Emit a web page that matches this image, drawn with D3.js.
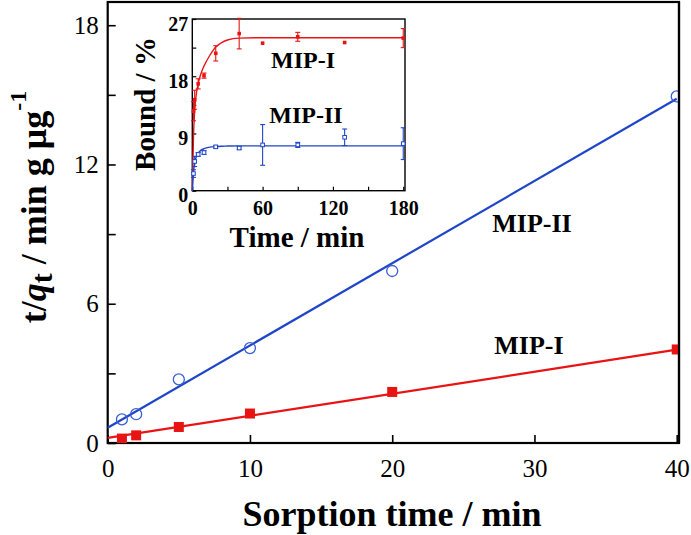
<!DOCTYPE html>
<html><head><meta charset="utf-8">
<script src="https://cdn.jsdelivr.net/npm/d3@7"></script>
<style>
body{margin:0;background:#fff;}
text{font-family:"Liberation Serif","Times New Roman",serif;}
</style></head>
<body><svg id="c" width="691" height="535"></svg>
<script>
// ---- main plot data ----
const mainT = [1, 2, 5, 10, 20, 40];
const mainI = [0.19, 0.33, 0.69, 1.27, 2.2, 4.03];
const mainII = [1.02, 1.24, 2.74, 4.09, 7.41, 14.93];
const fitT = [0, 40];
const fitI = [0.22, 4.02];
const fitII = [0.66, 14.83];
const mainXTicks = [0, 10, 20, 30, 40];
const mainYTicks = [0, 3, 6, 9, 12, 15, 18];
// ---- inset data ----
const kinT = [1, 2, 5, 10, 20, 40, 60, 90, 130, 180];
const kinI = [12.5, 14.3, 16.8, 18.1, 21.6, 24.7, 23.2, 24.2, 23.3, 24.0];
const errI = [1.5, 1.5, 0.8, 0.4, 1.2, 2.4, 0, 0.7, 0, 1.5];
const kinII = [2.7, 4.6, 5.7, 6.0, 6.9, 6.7, 7.2, 7.2, 8.4, 7.4];
const errII = [0.6, 0.8, 0.3, 0.3, 0.2, 0.2, 3.2, 0.4, 1.3, 2.5];
const curveT = [0, 1, 2, 3, 5, 7, 10, 15, 20, 25, 30, 40, 60, 180];
const curveI = [0, 8.5, 12.5, 14.6, 16.8, 18.2, 19.6, 21.3, 22.6, 23.3, 23.7, 24.0, 24.05, 24.05];
const curveII = [0, 2.8, 4.3, 5.1, 5.9, 6.3, 6.6, 6.85, 6.95, 7.0, 7.02, 7.05, 7.05, 7.05];
const inXTicks = [0, 30, 60, 90, 120, 150, 180];
const inYTicks = [0, 4.5, 9, 13.5, 18, 22.5, 27];

const RED = "#e81414", BLUE = "#1f45c8";
const FONT = '"Liberation Serif","Times New Roman",serif';
const svg = d3.select("#c");

// ---- main scales ----
const x = d3.scaleLinear().domain([0, 40.16]).range([107.7, 679]);
const y = d3.scaleLinear().domain([0, 19]).range([443, 2]);

// axes
const gx = svg.append("g").attr("transform", "translate(0,443)")
  .call(d3.axisBottom(x).tickValues(mainXTicks).tickSize(-8).tickPadding(16).tickFormat(d3.format("d")));
const gy = svg.append("g").attr("transform", "translate(107.7,0)")
  .call(d3.axisLeft(y).tickValues(mainYTicks).tickSize(-8).tickPadding(9).tickFormat(d => d % 6 === 0 ? d : ""));
[gx, gy].forEach(g => {
  g.attr("font-family", FONT);
  g.select(".domain").remove();
  g.selectAll(".tick line").attr("stroke", "#000").attr("stroke-width", 1.6);
  g.selectAll(".tick text").attr("font-size", 25).attr("fill", "#000").style("font-family", FONT);
});
svg.append("rect").attr("x", x(0)).attr("y", y(19)).attr("width", x(40.16) - x(0)).attr("height", y(0) - y(19))
  .attr("fill", "none").attr("stroke", "#000").attr("stroke-width", 2.2);

// fit lines
svg.append("clipPath").attr("id", "mc").append("rect")
  .attr("x", x(0)).attr("y", y(19)).attr("width", x(40.16) - x(0)).attr("height", y(0) - y(19));
const lineMain = d3.line().x((d, i) => x(fitT[i])).y(d => y(d));
svg.append("path").attr("d", lineMain(fitI)).attr("stroke", RED).attr("stroke-width", 2.2).attr("fill", "none");
svg.append("path").attr("d", lineMain(fitII)).attr("stroke", BLUE).attr("stroke-width", 2.2).attr("fill", "none");

// markers
const mk = svg.append("g").attr("clip-path", "url(#mc)");
mk.selectAll(".sq").data(mainI).join("rect")
  .attr("x", (d, i) => x(mainT[i]) - 5).attr("y", d => y(d) - 5).attr("width", 10).attr("height", 10).attr("fill", RED);
mk.selectAll(".ci").data(mainII).join("circle")
  .attr("cx", (d, i) => x(mainT[i])).attr("cy", d => y(d)).attr("r", 5.5)
  .attr("fill", "none").attr("stroke", "#3a5fd0").attr("stroke-width", 1.3);

svg.append("line").attr("x1", x(40.16)).attr("x2", x(40.16)).attr("y1", y(19)).attr("y2", y(0)).attr("stroke", "#000").attr("stroke-width", 2.2);

// main labels
svg.append("text").attr("x", 392).attr("y", 526).attr("text-anchor", "middle")
  .attr("font-size", 36).attr("font-weight", "bold").text("Sorption time / min");
const yl = svg.append("text").attr("transform", "translate(46,207) rotate(-90)").attr("text-anchor", "middle")
  .attr("font-size", 36).attr("font-weight", "bold");
yl.append("tspan").text("t/");
yl.append("tspan").attr("font-style", "italic").text("q");
yl.append("tspan").attr("dy", 6).attr("font-size", 30).text("t");
yl.append("tspan").attr("dy", -6).text(" / min g μg");
yl.append("tspan").attr("dy", -20).attr("font-size", 24).text("-1");

svg.append("text").attr("x", 532).attr("y", 232).attr("text-anchor", "middle")
  .attr("font-size", 26).attr("font-weight", "bold").text("MIP-II");
svg.append("text").attr("x", 529).attr("y", 354).attr("text-anchor", "middle")
  .attr("font-size", 26).attr("font-weight", "bold").text("MIP-I");

// ---- inset ----
const xi = d3.scaleLinear().domain([0, 181.5]).range([192.3, 405]);
const yi = d3.scaleLinear().domain([0, 27]).range([190.7, 19]);
svg.append("rect").attr("x", xi(0)).attr("y", yi(27)).attr("width", xi(181.5) - xi(0)).attr("height", yi(0) - yi(27))
  .attr("fill", "#fff").attr("stroke", "none");
const gxi = svg.append("g").attr("transform", `translate(0,${yi(0)})`)
  .call(d3.axisBottom(xi).tickValues(inXTicks).tickSize(-4).tickPadding(10).tickFormat(d => d % 60 === 0 ? d : ""));
const gyi = svg.append("g").attr("transform", `translate(${xi(0)},0)`)
  .call(d3.axisLeft(yi).tickValues(inYTicks).tickSize(-4).tickPadding(4).tickFormat(d => d % 9 === 0 ? d : ""));
[gxi, gyi].forEach(g => {
  g.attr("font-family", FONT);
  g.select(".domain").remove();
  g.selectAll(".tick line").attr("stroke", "#000").attr("stroke-width", 1.2);
  g.selectAll(".tick text").attr("font-size", 20).attr("font-weight", "bold").attr("fill", "#000").style("font-family", FONT);
});
gyi.selectAll(".tick text").attr("dy", "0.55em");
svg.append("rect").attr("x", xi(0)).attr("y", yi(27)).attr("width", xi(181.5) - xi(0)).attr("height", yi(0) - yi(27))
  .attr("fill", "none").attr("stroke", "#000").attr("stroke-width", 1.4);

const lineIn = d3.line().x((d, i) => xi(curveT[i])).y(d => yi(d)).curve(d3.curveMonotoneX);
svg.append("path").attr("d", lineIn(curveI)).attr("stroke", RED).attr("stroke-width", 1.4).attr("fill", "none");
svg.append("path").attr("d", lineIn(curveII)).attr("stroke", BLUE).attr("stroke-width", 1.4).attr("fill", "none");

function errBars(vals, errs, col) {
  const g = svg.append("g").attr("stroke", col).attr("stroke-width", 1.1);
  vals.forEach((v, i) => {
    if (errs[i] <= 0) return;
    const cx = xi(kinT[i]);
    g.append("line").attr("x1", cx).attr("x2", cx).attr("y1", yi(v - errs[i])).attr("y2", yi(v + errs[i]));
    g.append("line").attr("x1", cx - 2.5).attr("x2", cx + 2.5).attr("y1", yi(v - errs[i])).attr("y2", yi(v - errs[i]));
    g.append("line").attr("x1", cx - 2.5).attr("x2", cx + 2.5).attr("y1", yi(v + errs[i])).attr("y2", yi(v + errs[i]));
  });
}
errBars(kinI, errI, RED);
errBars(kinII, errII, BLUE);
svg.selectAll(".pi").data(kinI).join("rect")
  .attr("x", (d, i) => xi(kinT[i]) - 1.8).attr("y", d => yi(d) - 1.8).attr("width", 3.6).attr("height", 3.6).attr("fill", RED);
svg.selectAll(".pii").data(kinII).join("rect")
  .attr("x", (d, i) => xi(kinT[i]) - 1.8).attr("y", d => yi(d) - 1.8).attr("width", 3.6).attr("height", 3.6)
  .attr("fill", "#fff").attr("stroke", BLUE).attr("stroke-width", 1);

svg.append("text").attr("x", 303).attr("y", 68).attr("text-anchor", "middle")
  .attr("font-size", 24).attr("font-weight", "bold").text("MIP-I");
svg.append("text").attr("x", 306).attr("y", 123).attr("text-anchor", "middle")
  .attr("font-size", 24).attr("font-weight", "bold").text("MIP-II");
svg.append("text").attr("x", 297).attr("y", 247).attr("text-anchor", "middle")
  .attr("font-size", 29).attr("font-weight", "bold").text("Time / min");
svg.append("text").attr("transform", "translate(155,104) rotate(-90)").attr("text-anchor", "middle")
  .attr("font-size", 29).attr("font-weight", "bold").text("Bound / %");
</script></body></html>
